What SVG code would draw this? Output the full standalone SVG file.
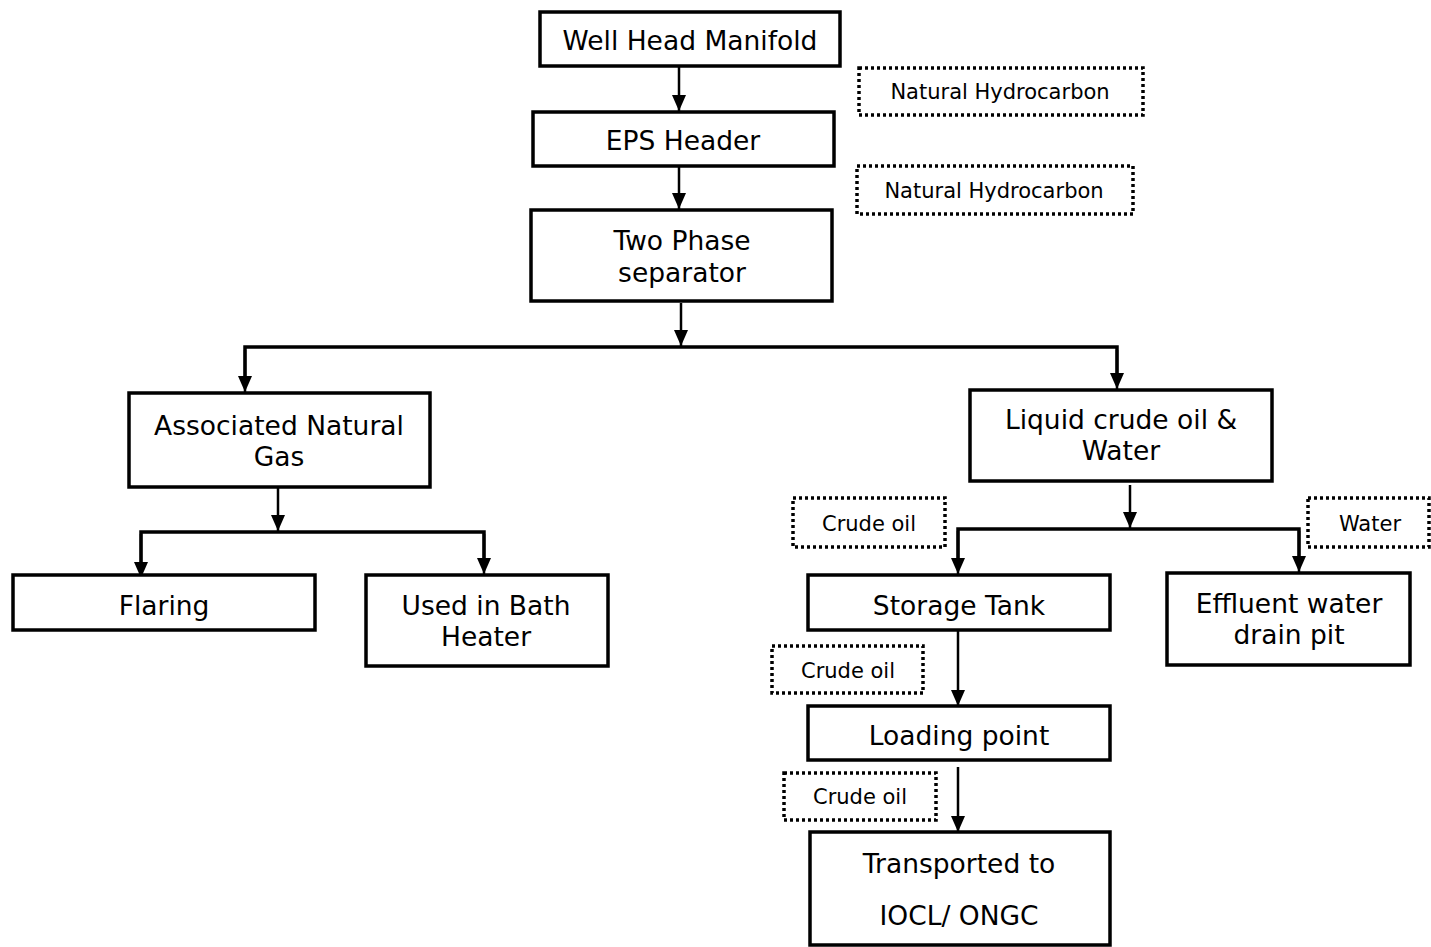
<svg xmlns="http://www.w3.org/2000/svg" width="1431" height="947" viewBox="0 0 1431 947">
<style>
.box{fill:#fff;stroke:#000;stroke-width:3.5}
.dot{fill:#fff;stroke:#000;stroke-width:3.5;stroke-dasharray:3 3}
.t{font-family:"DejaVu Sans",Verdana,sans-serif;font-size:26.5px;fill:#000;text-anchor:middle}
.s{font-family:"DejaVu Sans",Verdana,sans-serif;font-size:21px;fill:#000;text-anchor:middle}
.c{fill:none;stroke:#000;stroke-width:2.5}
.h{fill:none;stroke:#000;stroke-width:3.5}
</style>
<defs>
<marker id="ah" markerUnits="userSpaceOnUse" markerWidth="16" markerHeight="16" refX="16" refY="7" orient="auto">
<path d="M0,0 L16,7 L0,14 z" fill="#000"/>
</marker>
</defs>
<g id="connectors">
<line class="c" x1="679" y1="66" x2="679" y2="111" marker-end="url(#ah)"/>
<line class="c" x1="679" y1="166" x2="679" y2="209" marker-end="url(#ah)"/>
<line class="c" x1="681" y1="303" x2="681" y2="346" marker-end="url(#ah)"/>
<polyline class="h" points="245,380 245,347 1117,347 1117,380"/>
<line class="c" x1="245" y1="350" x2="245" y2="392" marker-end="url(#ah)"/>
<line class="c" x1="1117" y1="350" x2="1117" y2="389" marker-end="url(#ah)"/>
<line class="c" x1="278" y1="487" x2="278" y2="531" marker-end="url(#ah)"/>
<polyline class="h" points="141,565 141,532 484,532 484,565"/>
<line class="c" x1="141" y1="534" x2="141" y2="578" marker-end="url(#ah)"/>
<line class="c" x1="484" y1="534" x2="484" y2="574" marker-end="url(#ah)"/>
<line class="c" x1="1130" y1="485" x2="1130" y2="528" marker-end="url(#ah)"/>
<polyline class="h" points="958,560 958,529 1299,529 1299,560"/>
<line class="c" x1="958" y1="531" x2="958" y2="574" marker-end="url(#ah)"/>
<line class="c" x1="1299" y1="531" x2="1299" y2="572" marker-end="url(#ah)"/>
<line class="c" x1="958" y1="630" x2="958" y2="706" marker-end="url(#ah)"/>
<line class="c" x1="958" y1="767" x2="958" y2="832" marker-end="url(#ah)"/>
</g>
<g id="n-wellhead"><rect class="box" x="540" y="12" width="300" height="54"/><text class="t" x="690" y="50">Well Head Manifold</text></g>
<g id="l-nh1"><rect class="dot" x="859" y="68" width="284" height="47"/><text class="s" x="1000" y="99">Natural Hydrocarbon</text></g>
<g id="n-eps"><rect class="box" x="533" y="112" width="301" height="54"/><text class="t" x="683" y="150">EPS Header</text></g>
<g id="l-nh2"><rect class="dot" x="857" y="166" width="276" height="48"/><text class="s" x="994" y="198">Natural Hydrocarbon</text></g>
<g id="n-sep"><rect class="box" x="531" y="210" width="301" height="91"/><text class="t" x="682" y="250">Two Phase</text><text class="t" x="682" y="282">separator</text></g>
<g id="n-gas"><rect class="box" x="129" y="393" width="301" height="94"/><text class="t" x="279" y="435">Associated Natural</text><text class="t" x="279" y="466">Gas</text></g>
<g id="n-liquid"><rect class="box" x="970" y="390" width="302" height="91"/><text class="t" x="1121" y="429">Liquid crude oil &amp;</text><text class="t" x="1121" y="460">Water</text></g>
<g id="n-flaring"><rect class="box" x="13" y="575" width="302" height="55"/><text class="t" x="164" y="615">Flaring</text></g>
<g id="n-bath"><rect class="box" x="366" y="575" width="242" height="91"/><text class="t" x="486" y="615">Used in Bath</text><text class="t" x="486" y="646">Heater</text></g>
<g id="l-crude1"><rect class="dot" x="793" y="498" width="152" height="49"/><text class="s" x="869" y="531">Crude oil</text></g>
<g id="l-water"><rect class="dot" x="1308" y="498" width="121" height="49"/><text class="s" x="1370" y="531">Water</text></g>
<g id="n-storage"><rect class="box" x="808" y="575" width="302" height="55"/><text class="t" x="959" y="615">Storage Tank</text></g>
<g id="n-effluent"><rect class="box" x="1167" y="573" width="243" height="92"/><text class="t" x="1289" y="613">Effluent water</text><text class="t" x="1289" y="644">drain pit</text></g>
<g id="l-crude2"><rect class="dot" x="772" y="646" width="151" height="47"/><text class="s" x="848" y="678">Crude oil</text></g>
<g id="n-loading"><rect class="box" x="808" y="706" width="302" height="54"/><text class="t" x="959" y="745">Loading point</text></g>
<g id="l-crude3"><rect class="dot" x="784" y="773" width="152" height="47"/><text class="s" x="860" y="804">Crude oil</text></g>
<g id="n-transport"><rect class="box" x="810" y="832" width="300" height="113"/><text class="t" x="959" y="873">Transported to</text><text class="t" x="959" y="925">IOCL/ ONGC</text></g>
</svg>
